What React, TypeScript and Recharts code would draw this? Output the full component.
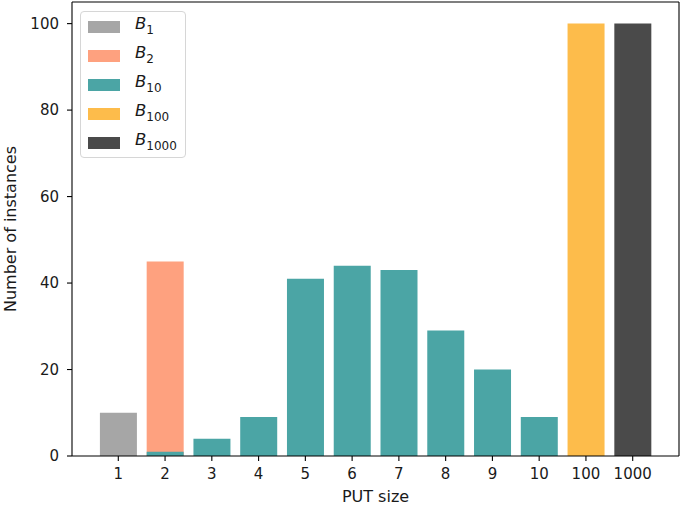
import { BarChart, Bar, XAxis, YAxis, Legend, Label, ReferenceLine } from "recharts";

const categories = ["1", "2", "3", "4", "5", "6", "7", "8", "9", "10", "100", "1000"];
const b1Values = [10, null, null, null, null, null, null, null, null, null, null, null];
const b2Values = [null, 45, null, null, null, null, null, null, null, null, null, null];
const b10Values = [null, 1, 4, 9, 41, 44, 43, 29, 20, 9, null, null];
const b100Values = [null, null, null, null, null, null, null, null, null, null, 100, null];
const b1000Values = [null, null, null, null, null, null, null, null, null, null, null, 100];
const yTicks = [0, 20, 40, 60, 80, 100];

const series = [
  { key: "b1", sub: "1", color: "#a6a6a6" },
  { key: "b2", sub: "2", color: "#fea17f" },
  { key: "b10", sub: "10", color: "#4ba5a5" },
  { key: "b100", sub: "100", color: "#fdbc4b" },
  { key: "b1000", sub: "1000", color: "#4a4a4a" },
];

const data = categories.map((c, i) => ({
  x: i,
  label: c,
  b1: b1Values[i],
  b2: b2Values[i],
  b10: b10Values[i],
  b100: b100Values[i],
  b1000: b1000Values[i],
}));

const xTicks = categories.map((_, i) => i);
const xDomain = [-0.99, 11.99];
const yMax = 105;
const font = "DejaVu Sans, sans-serif";

function LegendBox() {
  return (
    <div
      style={{
        width: 106,
        height: 147,
        border: "1px solid #d6d6d6",
        borderRadius: 4,
        background: "rgba(255,255,255,0.8)",
        boxSizing: "border-box",
        fontFamily: font,
        color: "#1a1a1a",
      }}
    >
      {series.map((s) => (
        <div key={s.key} style={{ display: "flex", alignItems: "center", height: 29 }}>
          <div style={{ width: 32, height: 12, background: s.color, marginLeft: 7, marginRight: 15 }} />
          <span style={{ fontSize: 16.5, fontStyle: "italic", lineHeight: "16px" }}>
            B<sub style={{ fontSize: 12, fontStyle: "normal", verticalAlign: "-5px" }}>{s.sub}</sub>
          </span>
        </div>
      ))}
    </div>
  );
}

export default function App() {
  return (
    <div style={{ position: "absolute", left: 0, top: 0, width: 685, height: 506, background: "#fff" }}>
      <BarChart
        width={685}
        height={506}
        data={data}
        margin={{ top: 2, right: 6, left: 0, bottom: 0 }}
        style={{ fontFamily: font }}
      >
        <XAxis
          xAxisId="main"
          type="number"
          dataKey="x"
          domain={xDomain}
          ticks={xTicks}
          interval={0}
          allowDataOverflow
          tickFormatter={(v) => categories[v]}
          height={50}
          tickSize={5}
          tickMargin={7}
          axisLine={{ stroke: "#000", strokeWidth: 1.1 }}
          tickLine={{ stroke: "#000", strokeWidth: 1.1 }}
          tick={{ fontSize: 15, fill: "#1a1a1a" }}
        >
          <Label value="PUT size" position="insideBottom" offset={4} style={{ fontSize: 16, fill: "#1a1a1a" }} />
        </XAxis>
        {series.map((s) => (
          <XAxis
            key={s.key}
            xAxisId={s.key}
            orientation="top"
            type="number"
            dataKey="x"
            domain={xDomain}
            ticks={xTicks}
            allowDataOverflow
            height={0}
            hide
          />
        ))}
        <YAxis
          domain={[0, yMax]}
          ticks={yTicks}
          width={72}
          tickSize={5}
          tickMargin={8}
          allowDataOverflow
          axisLine={{ stroke: "#000", strokeWidth: 1.1 }}
          tickLine={{ stroke: "#000", strokeWidth: 1.1 }}
          tick={{ fontSize: 15, fill: "#1a1a1a" }}
        >
          <Label
            content={({ viewBox }: any) => {
              const x = viewBox.x + 10;
              const y = viewBox.y + viewBox.height / 2;
              return (
                <text
                  x={x}
                  y={y}
                  transform={`rotate(-90, ${x}, ${y})`}
                  textAnchor="middle"
                  dominantBaseline="central"
                  style={{ fontSize: 16, fill: "#1a1a1a", fontFamily: font }}
                >
                  Number of instances
                </text>
              );
            }}
          />
        </YAxis>
        <ReferenceLine xAxisId="main" y={yMax} stroke="#000" strokeWidth={1.1} ifOverflow="visible" />
        <ReferenceLine xAxisId="main" x={xDomain[1]} stroke="#000" strokeWidth={1.1} ifOverflow="visible" />
        <Legend
          layout="vertical"
          align="center"
          verticalAlign="middle"
          wrapperStyle={{ left: 80, top: 11, width: 106, height: 147 }}
          content={() => <LegendBox />}
        />
        {series.map((s) => (
          <Bar
            key={s.key}
            xAxisId={s.key}
            dataKey={s.key}
            fill={s.color}
            barSize={37}
            isAnimationActive={false}
          />
        ))}
      </BarChart>
    </div>
  );
}
